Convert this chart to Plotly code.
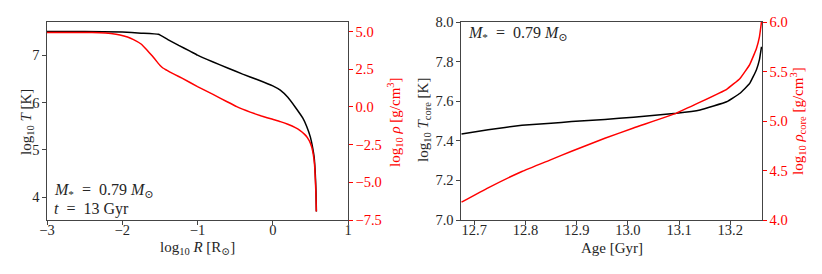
import plotly.graph_objects as go

# ---- Left panel: structure profile at t = 13 Gyr ----
logR_T = [-3.0, -2.5, -2.0, -1.75, -1.52, -1.4, -1.25, -1.1, -1.0, -0.8, -0.6, -0.4, -0.2,
          0.0, 0.1, 0.2, 0.3, 0.4, 0.45, 0.5, 0.53, 0.55, 0.565, 0.575, 0.58]
logT = [7.50, 7.50, 7.49, 7.465, 7.44, 7.335, 7.205, 7.085, 7.00, 6.86, 6.73, 6.60, 6.48,
        6.35, 6.26, 6.11, 5.90, 5.67, 5.50, 5.27, 5.05, 4.85, 4.50, 4.10, 3.70]

logR_rho = [-3.0, -2.5, -2.3, -2.15, -2.03, -1.93, -1.85, -1.75, -1.675, -1.6, -1.54, -1.49,
            -1.455, -1.42, -1.365, -1.3, -1.2, -1.0, -0.8, -0.6, -0.479, -0.3, -0.15, 0.0,
            0.1, 0.2, 0.3, 0.36, 0.42, 0.46, 0.5, 0.52, 0.54, 0.555, 0.566, 0.574, 0.579]
logRho = [4.95, 4.95, 4.93, 4.87, 4.78, 4.64, 4.47, 4.18, 3.80, 3.38, 3.01, 2.72,
          2.57, 2.47, 2.31, 2.15, 1.90, 1.35, 0.85, 0.33, 0.02, -0.34, -0.60, -0.82,
          -0.97, -1.15, -1.37, -1.55, -1.80, -2.03, -2.40, -2.70, -3.20, -3.80, -4.80, -5.80, -6.94]

# ---- Right panel: core evolution ----
age = [12.675, 12.727, 12.793, 12.850, 12.890, 12.955, 13.011, 13.095, 13.141, 13.193, 13.219,
       13.238, 13.251, 13.257, 13.261]
logTcore = [7.434, 7.456, 7.478, 7.489, 7.497, 7.508, 7.519, 7.539, 7.556, 7.597, 7.640,
            7.690, 7.758, 7.81, 7.875]
logRhocore = [4.18, 4.325, 4.49, 4.61, 4.695, 4.825, 4.93, 5.08, 5.19, 5.32, 5.43,
              5.57, 5.73, 5.85, 6.00]

FONT = "Liberation Serif, DejaVu Serif, serif"
AX = "#444444"
RED = "#ff0000"
TXT = "#262626"

# the page body has an 8 px margin: the figure starts at (8, 8) in the window
OFF = 8
W, H = 822 - OFF, 274 - OFF


def fx(px):
    return (px - OFF) / W


def fy(py):
    return 1 - (py - OFF) / H


line_kw = dict(width=1.5, shape="spline", smoothing=0.3)

fig = go.Figure()
fig.add_trace(go.Scatter(x=logR_T, y=logT, mode="lines", line=dict(color="black", **line_kw),
                         xaxis="x", yaxis="y", showlegend=False))
fig.add_trace(go.Scatter(x=logR_rho, y=logRho, mode="lines", line=dict(color=RED, **line_kw),
                         xaxis="x", yaxis="y2", showlegend=False))
fig.add_trace(go.Scatter(x=age, y=logTcore, mode="lines", line=dict(color="black", **line_kw),
                         xaxis="x2", yaxis="y3", showlegend=False))
fig.add_trace(go.Scatter(x=age, y=logRhocore, mode="lines", line=dict(color=RED, **line_kw),
                         xaxis="x2", yaxis="y4", showlegend=False))

ydom = [fy(220), fy(22)]
TICK = 14.5

common = dict(showgrid=False, zeroline=False, showline=True, linecolor=AX, linewidth=1.2,
              ticks="outside", ticklen=3.5, tickwidth=0.8, tickcolor=AX,
              tickfont=dict(family=FONT, size=TICK, color=TXT), automargin=False)
xcommon = dict(common, ticklabelstandoff=-7)


def tfont(c=TXT, s=15):
    return dict(family=FONT, size=s, color=c)


def label(text, px, py, color=TXT, angle=0, size=15, xanchor="center"):
    return dict(text=text, xref="paper", yref="paper", x=fx(px), y=fy(py),
                xanchor=xanchor, yanchor="middle", textangle=angle, showarrow=False,
                font=tfont(color, size))


EQ = "&#8194;=&#8194;"
mass = "<i>M</i><sub>*</sub>" + EQ + "0.79 <i>M</i><sub>⊙</sub>"

fig.update_layout(
    width=W, height=H, margin=dict(l=0, r=0, t=0, b=0),
    paper_bgcolor="white", plot_bgcolor="white",
    font=dict(family=FONT, size=15, color=TXT),
    xaxis=dict(xcommon, domain=[fx(47), fx(348)], range=[-3, 1], tickvals=[-3, -2, -1, 0, 1],
               mirror=True, anchor="y"),
    yaxis=dict(common, domain=ydom, range=[3.52, 7.70], tickvals=[4, 5, 6, 7], anchor="x"),
    yaxis2=dict(common, overlaying="y", side="right", anchor="x", range=[-7.5, 5.64],
                tickvals=[-7.5, -5.0, -2.5, 0.0, 2.5, 5.0], tickformat=".1f",
                tickcolor=RED, tickfont=tfont(RED, TICK)),
    xaxis2=dict(xcommon, domain=[fx(461), fx(762)], range=[12.674, 13.262],
                tickvals=[12.7, 12.8, 12.9, 13.0, 13.1, 13.2], tickformat=".1f",
                mirror=True, anchor="y3"),
    yaxis3=dict(common, domain=ydom, range=[7.0, 8.0], tickvals=[7.0, 7.2, 7.4, 7.6, 7.8, 8.0],
                tickformat=".1f", anchor="x2"),
    yaxis4=dict(common, overlaying="y3", side="right", anchor="x2", range=[4.0, 6.0],
                tickvals=[4.0, 4.5, 5.0, 5.5, 6.0], tickformat=".1f",
                tickcolor=RED, tickfont=tfont(RED, TICK)),
    annotations=[
        # axis titles
        label("log<sub>10</sub> <i>R</i> [R<sub>⊙</sub>]", 197.5, 248),
        label("log<sub>10</sub> <i>T</i> [K]", 27, 122, angle=-90),
        label("log<sub>10</sub> <i>ρ</i> [g/cm<sup>3</sup>]", 395, 122, color=RED, angle=-90),
        label("Age [Gyr]", 611.5, 248),
        label("log<sub>10</sub> <i>T</i><sub>core</sub> [K]", 424, 120, angle=-90),
        label("log<sub>10</sub> <i>ρ</i><sub>core</sub> [g/cm<sup>3</sup>]", 798, 121, color=RED, angle=-90),
        # in-panel texts
        label(mass, 52, 190, size=16, xanchor="left"),
        label("<i>t</i>" + EQ + "13 Gyr", 52, 209, size=16, xanchor="left"),
        label(mass, 466, 33, size=16, xanchor="left"),
    ],
)

fig.write_html("out.html")
